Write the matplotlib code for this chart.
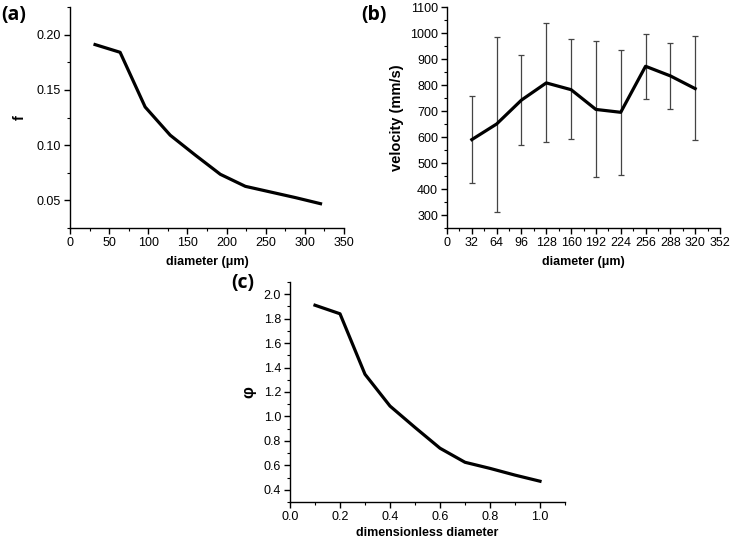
import matplotlib
matplotlib.use("Agg")
import matplotlib.pyplot as plt
from matplotlib.ticker import MultipleLocator, FormatStrFormatter
import numpy as np

plt.rcParams['font.family'] = ['Liberation Sans', 'DejaVu Sans']

diam = [32, 64, 96, 128, 160, 192, 224, 256, 288, 320]
f_vals = [0.191, 0.184, 0.1345, 0.109, 0.091, 0.0736, 0.0627, 0.0576, 0.0525, 0.047]

vel = [590, 650, 742, 808, 782, 706, 695, 872, 835, 786]
vel_hi = [758, 985, 917, 1038, 977, 970, 935, 997, 963, 987]
vel_lo = [423, 313, 568, 580, 592, 445, 455, 748, 708, 590]

dimless = [0.1, 0.2, 0.3, 0.4, 0.5, 0.6, 0.7, 0.8, 0.9, 1.0]
phi = [1.91, 1.84, 1.345, 1.085, 0.91, 0.74, 0.625, 0.575, 0.52, 0.47]

W, H = 732, 541
fig = plt.figure(figsize=(W/100, H/100), dpi=100)

def ax_px(l, r, t, b):
    return fig.add_axes([l/W, 1 - b/H, (r-l)/W, (b-t)/H])

def style(ax):
    ax.spines['top'].set_visible(False)
    ax.spines['right'].set_visible(False)
    for s in ('left', 'bottom'):
        ax.spines[s].set_linewidth(1.0)
    ax.tick_params(which='major', direction='out', length=4.5, width=1.0, labelsize=9, pad=2)
    ax.tick_params(which='minor', direction='out', length=2.5, width=0.8)

panel_font = dict(family=['Open Sans', 'DejaVu Sans'], fontweight='bold', fontsize=14)
xlab_font = dict(fontweight='bold', fontsize=9)

# (a)
ax1 = ax_px(70, 344, 7, 228)
ax1.plot(diam, f_vals, color='black', lw=2.3)
ax1.set_xlim(0, 350)
ax1.set_ylim(0.025, 0.225)
ax1.xaxis.set_major_locator(MultipleLocator(50))
ax1.xaxis.set_minor_locator(MultipleLocator(25))
ax1.yaxis.set_major_locator(MultipleLocator(0.05))
ax1.yaxis.set_minor_locator(MultipleLocator(0.025))
ax1.yaxis.set_major_formatter(FormatStrFormatter('%.2f'))
style(ax1)
ax1.set_xlabel('diameter (μm)', labelpad=5, **xlab_font)
ax1.set_ylabel('f', labelpad=7, fontweight='bold', fontsize=10.5)
fig.text(1/W, 1 - 20/H, '(a)', **panel_font)

# (b)
ax2 = ax_px(447, 720, 7, 228)
yerr = [np.array(vel) - np.array(vel_lo), np.array(vel_hi) - np.array(vel)]
ax2.errorbar(diam, vel, yerr=yerr, color='black', lw=2.3, ecolor='#444444',
             elinewidth=0.9, capsize=2.5, capthick=0.9)
ax2.set_xlim(0, 352)
ax2.set_ylim(250, 1100)
ax2.set_xticks(np.arange(0, 353, 32))
ax2.xaxis.set_minor_locator(MultipleLocator(16))
ax2.yaxis.set_major_locator(MultipleLocator(100))
ax2.yaxis.set_minor_locator(MultipleLocator(50))
style(ax2)
ax2.set_xlabel('diameter (μm)', labelpad=5, **xlab_font)
ax2.set_ylabel('velocity (mm/s)', labelpad=4, fontweight='bold', fontsize=10.5)
fig.text(361/W, 1 - 20/H, '(b)', **panel_font)

# (c)
ax3 = ax_px(290, 565, 282, 502)
ax3.plot(dimless, phi, color='black', lw=2.3)
ax3.set_xlim(0, 1.1)
ax3.set_ylim(0.3, 2.1)
ax3.xaxis.set_major_locator(MultipleLocator(0.2))
ax3.xaxis.set_minor_locator(MultipleLocator(0.1))
ax3.yaxis.set_major_locator(MultipleLocator(0.2))
ax3.yaxis.set_minor_locator(MultipleLocator(0.1))
ax3.xaxis.set_major_formatter(FormatStrFormatter('%.1f'))
ax3.yaxis.set_major_formatter(FormatStrFormatter('%.1f'))
style(ax3)
ax3.set_xlabel('dimensionless diameter', labelpad=3, **xlab_font)
ax3.set_ylabel('φ', labelpad=5, fontweight='bold', fontsize=12)
fig.text(231/W, 1 - 288/H, '(c)', **panel_font)

fig.savefig('out.png', dpi=100)
